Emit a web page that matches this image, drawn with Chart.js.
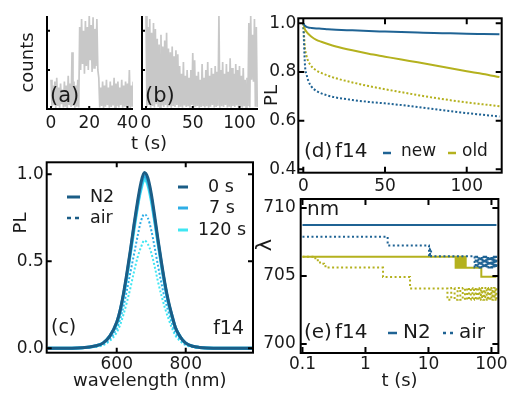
<!DOCTYPE html>
<html>
<head>
<meta charset="utf-8">
<script src="https://cdn.jsdelivr.net/npm/chart.js@4.4.0/dist/chart.umd.min.js"></script>
<style>
  html, body { margin: 0; padding: 0; background: #fff; }
  #wrap { position: relative; width: 509px; height: 393px; overflow: hidden; }
  canvas { position: absolute; left: 0; top: 0; }
</style>
</head>
<body>
<div id="wrap">
  <canvas id="pa" width="509" height="393"></canvas>
  <canvas id="pb" width="509" height="393"></canvas>
  <canvas id="pc" width="509" height="393"></canvas>
  <canvas id="pd" width="509" height="393"></canvas>
  <canvas id="pe" width="509" height="393"></canvas>
</div>
<script>
// (a) blinking trace: peak and floor of the counts in each 1 s slot
const aTime = [0,1,2,3,4,5,6,7,8,9,10,11,12,13,14,15,16,17,18,19,20,21,22,23,24,25,26,27,28,29,30,31,32,33,34,35,36,37,38,39,40,41,42,43];
const aPeak = [0.75,0.6,0.7,0.8,0.55,0.65,0.5,0.7,0.6,0.85,0.65,1.45,0.7,0.6,0.75,2.1,2.3,2.0,2.25,2.1,2.4,2.15,2.35,2.05,2.3,0.8,0.55,0.7,0.6,0.75,0.55,0.7,0.6,0.8,0.65,0.7,0.55,0.75,0.6,0.7,0.65,1.0,0.6,0.7];
const aFloor = [0.05,0.1,0.02,0.08,0.03,0.12,0.04,0.06,0.02,0.1,0.05,0.08,0.03,0.06,0.04,1.0,1.15,0.9,1.1,1.0,1.25,0.95,1.05,1.1,1.0,0.04,0.08,0.02,0.06,0.1,0.03,0.05,0.09,0.02,0.07,0.04,0.1,0.03,0.06,0.05,0.08,0.02,0.06,0.04];
const aTicks = [0, 20, 40];

// (b) second trace, 2 s slots
const bTime = [0,2,4,6,8,10,12,14,16,18,20,22,24,26,28,30,32,34,36,38,40,42,44,46,48,50,52,54,56,58,60,62,64,66,68,70,72,74,76,78,80,82,84,86,88,90,92,94,96,98,100,102,104,106,108,110,112,114,116,118];
const bPeak = [2.38,2.1,2.3,1.95,2.2,2.05,1.8,1.65,1.9,1.6,1.75,1.95,1.55,1.45,1.6,1.35,1.5,1.4,1.1,0.9,1.2,0.85,1.0,0.8,1.0,1.43,1.25,0.85,0.95,0.75,1.15,0.8,1.0,1.2,0.85,1.05,0.9,1.1,0.95,2.4,1.0,1.2,0.9,1.15,0.95,1.3,1.05,0.9,1.15,1.0,1.1,0.85,1.05,0.75,0.8,2.2,2.38,1.9,2.3,2.1];
const bFloor = [0.05,0.1,0.03,0.08,0.04,0.12,0.06,0.03,0.09,0.05,0.1,0.04,0.07,0.03,0.08,0.05,0.1,0.04,0.06,0.03,0.09,0.05,0.07,0.03,0.1,0.04,0.06,0.08,0.03,0.05,0.09,0.04,0.07,0.03,0.06,0.1,0.04,0.05,0.08,0.03,0.07,0.05,0.1,0.04,0.06,0.03,0.08,0.05,0.09,0.04,0.06,0.03,0.07,0.05,0.08,0.04,0.75,0.7,0.06,0.05];
const bTicks = [0, 50, 100];
const countTicks = [0, 1, 2];

// (c) spectra
const cWave = [400,500,540,560,580,600,610,620,630,640,650,660,670,680,690,700,710,720,730,740,750,760,770,780,790,800,820,840,860,900,1000];
const cN2_0 = [0,0.004,0.015,0.03,0.07,0.15,0.22,0.32,0.44,0.57,0.71,0.84,0.95,1.01,0.98,0.89,0.76,0.62,0.49,0.37,0.27,0.19,0.12,0.08,0.05,0.03,0.012,0.005,0.002,0,0];
const cN2_7 = [0,0.004,0.015,0.03,0.07,0.15,0.22,0.31,0.43,0.56,0.70,0.82,0.93,0.99,0.96,0.87,0.74,0.61,0.48,0.36,0.26,0.19,0.12,0.08,0.05,0.03,0.012,0.005,0.002,0,0];
const cN2_120 = [0,0.004,0.014,0.03,0.07,0.14,0.21,0.31,0.42,0.55,0.68,0.81,0.91,0.97,0.94,0.85,0.73,0.60,0.47,0.36,0.26,0.18,0.12,0.08,0.05,0.03,0.011,0.005,0.002,0,0];
const cAir_7 = [0,0.003,0.011,0.023,0.054,0.115,0.17,0.245,0.34,0.44,0.54,0.64,0.73,0.77,0.75,0.68,0.58,0.47,0.37,0.28,0.21,0.145,0.09,0.06,0.04,0.023,0.009,0.004,0.002,0,0];
const cAir_120 = [0,0.002,0.009,0.018,0.043,0.092,0.135,0.197,0.27,0.35,0.44,0.52,0.58,0.62,0.60,0.55,0.47,0.38,0.30,0.23,0.17,0.117,0.074,0.049,0.031,0.018,0.007,0.003,0.001,0,0];
const cTicksX = [600, 800];
const cTicksY = [0, 0.5, 1];

// (d) PL decay
const dTime = [0,1,2,3,5,8,11,15,20,30,40,50,60,70,80,90,100,110,120];
const dNewN2 = [1.0,0.99,0.985,0.983,0.981,0.979,0.978,0.976,0.974,0.971,0.968,0.966,0.964,0.962,0.960,0.959,0.957,0.956,0.955];
const dOldN2 = [1.0,0.975,0.965,0.957,0.945,0.932,0.924,0.915,0.905,0.889,0.875,0.863,0.851,0.84,0.828,0.815,0.803,0.792,0.779];
const dNewAir = [1.0,0.83,0.79,0.765,0.74,0.722,0.712,0.703,0.695,0.685,0.677,0.671,0.664,0.656,0.647,0.639,0.631,0.624,0.617];
const dOldAir = [1.0,0.90,0.865,0.845,0.823,0.806,0.796,0.785,0.774,0.757,0.742,0.729,0.717,0.705,0.694,0.684,0.675,0.667,0.659];
const dTicksX = [0, 50, 100];
const dTicksY = [0.4, 0.6, 0.8, 1.0];

// (e) peak wavelength vs time (value holds until next time)
const eNewN2T = [0.1, 120];
const eNewN2 = [708.75, 708.75];
const eOldN2T = [0.1,27,28,29,30,31,32,33,34,35,36,37,38,39,69,120];
const eOldN2 = [706.42,705.6,706.42,705.6,706.42,705.6,706.42,705.6,706.42,705.6,706.42,705.6,706.42,705.6,704.95,704.95];
const eNewAirT = [0.1,2.25,10.2,10.6,11.0,54,56,58,60,62,64,66,68,70,72,74,76,78,80,82,84,86,88,90,92,94,96,98,100,102,104,106,108,110,112,114,116,118,120];
const eNewAir = [707.89,707.25,706.45,707.0,706.45,705.62,706.42,705.62,706.42,705.62,706.42,705.62,706.42,705.62,706.42,705.62,706.42,705.62,706.42,705.62,706.42,705.62,706.42,705.62,706.42,705.62,706.42,705.62,706.42,705.62,706.42,705.62,706.42,705.62,706.42,705.62,706.42,705.62,706.42];
const eOldAirT = [0.1,0.16,0.19,0.22,0.25,1.9,5.1,20,23,26,29,32,35,38,41,44,47,50,53,56,59,62,65,68,71,74,77,80,84,88,92,96,100,104,108,112,116,120];
const eOldAir = [706.42,706.15,705.9,705.72,705.62,704.92,704.08,703.25,704.12,703.25,704.12,703.25,704.12,703.25,704.12,703.25,704.12,703.25,704.12,703.25,704.12,703.25,704.12,703.25,704.12,703.25,704.12,703.25,704.12,703.25,704.12,703.25,704.12,703.25,704.12,703.25,704.12,703.25];
const eTicksX = [0.1, 1, 10, 100];
const eTicksY = [700, 705, 710];

const BLUE = '#1f6394', OLIVE = '#b4b11e';
const C0 = '#1b5d86', C7 = '#2eaee6', C120 = '#3fe6f2';
const GREY = '#c8c8c8';

Chart.defaults.font.family = '"DejaVu Sans", sans-serif';
Chart.defaults.color = '#1a1a1a';
Chart.defaults.animation = false;
Chart.defaults.responsive = false;
Chart.defaults.plugins.legend.display = false;
Chart.defaults.plugins.tooltip.enabled = false;
Chart.defaults.elements.point.radius = 0;
Chart.defaults.layout.autoPadding = false;

const pts = (xs, ys) => xs.map((x, i) => ({ x: x, y: ys[i] }));
const zig = (t, hi, lo, dt) => t.flatMap((x, i) => [{ x: x, y: hi[i] }, { x: x + dt, y: lo[i] }]);

// frame, inward ticks, small keys and labels
const panelPlugin = {
  id: 'panel',
  afterDraw(chart, args, opts) {
    const ctx = chart.ctx, a = chart.chartArea;
    const xs = chart.scales.x, ys = chart.scales.y;
    const len = opts.tickLen || 5;
    ctx.save();
    ctx.strokeStyle = '#000';
    ctx.lineWidth = 2;
    if (opts.box) {
      ctx.strokeRect(a.left, a.top, a.right - a.left, a.bottom - a.top);
    } else {
      ctx.beginPath();
      ctx.moveTo(a.left, a.top);
      ctx.lineTo(a.left, a.bottom);
      ctx.lineTo(a.right, a.bottom);
      ctx.stroke();
    }
    ctx.beginPath();
    xs.ticks.forEach(t => {
      const p = xs.getPixelForValue(t.value);
      ctx.moveTo(p, a.bottom); ctx.lineTo(p, a.bottom - len);
      if (opts.box) { ctx.moveTo(p, a.top); ctx.lineTo(p, a.top + len); }
    });
    ys.ticks.forEach(t => {
      const p = ys.getPixelForValue(t.value);
      ctx.moveTo(a.left, p); ctx.lineTo(a.left + len, p);
      if (opts.box) { ctx.moveTo(a.right, p); ctx.lineTo(a.right - len, p); }
    });
    ctx.stroke();
    (opts.keys || []).forEach(k => {
      ctx.save();
      ctx.strokeStyle = k.color;
      ctx.lineWidth = k.width;
      ctx.setLineDash(k.dash || []);
      ctx.beginPath();
      ctx.moveTo(k.x1, k.y); ctx.lineTo(k.x2, k.y);
      ctx.stroke();
      ctx.restore();
    });
    ctx.fillStyle = '#1a1a1a';
    ctx.textBaseline = 'middle';
    (opts.texts || []).forEach(t => {
      ctx.save();
      ctx.font = t.size + 'px "DejaVu Sans"';
      ctx.textAlign = t.align || 'left';
      ctx.translate(t.x, t.y);
      if (t.rot) ctx.rotate(-Math.PI / 2);
      ctx.fillText(t.text, 0, 0);
      ctx.restore();
    });
    ctx.restore();
  }
};
Chart.register(panelPlugin);

function axis(type, min, max, tickVals, size, fit, extra) {
  const horiz = fit === 'h';
  return Object.assign({
    type: type, min: min, max: max,
    grid: { display: false, drawTicks: false },
    border: { display: false },
    afterBuildTicks: s => { s.ticks = tickVals.map(v => ({ value: v })); },
    afterFit: s => { if (horiz) s.height = size; else s.width = size; }
  }, extra);
}
const tickFont = { size: 17 };

// (a)
new Chart(document.getElementById('pa'), {
  type: 'line',
  data: { datasets: [{ data: zig(aTime, aPeak, aFloor, 0.5), borderColor: GREY, borderWidth: 1.7, tension: 0 }] },
  options: {
    layout: { padding: { left: 17.2, right: 376, top: 16, bottom: 254 } },
    scales: {
      x: axis('linear', -2.1, 42.9, aTicks, 30, 'h', { ticks: { font: tickFont, padding: 4, autoSkip: false, maxRotation: 0, callback: v => String(v) } }),
      y: axis('linear', 0, 2.38, countTicks, 29.8, 'w', { ticks: { display: false }, title: { display: true, text: 'counts', font: { size: 18 }, padding: 0 } })
    },
    plugins: { panel: { box: false, tickLen: 3, texts: [{ text: '(a)', x: 50, y: 97, size: 21 }] } }
  }
});

// (b)
new Chart(document.getElementById('pb'), {
  type: 'line',
  data: { datasets: [{ data: zig(bTime, bPeak, bFloor, 1), borderColor: GREY, borderWidth: 1.7, tension: 0 }] },
  options: {
    layout: { padding: { left: 132, right: 251, top: 16, bottom: 254 } },
    scales: {
      x: axis('linear', -4.3, 119.8, bTicks, 30, 'h', { ticks: { font: tickFont, padding: 4, autoSkip: false, maxRotation: 0, callback: v => String(v) } }),
      y: axis('linear', 0, 2.38, countTicks, 10, 'w', { ticks: { display: false } })
    },
    plugins: { panel: { box: false, tickLen: 3, texts: [
      { text: '(b)', x: 145, y: 97, size: 21 },
      { text: 't (s)', x: 149, y: 144, size: 18, align: 'center' }
    ] } }
  }
});

// (c)
new Chart(document.getElementById('pc'), {
  type: 'line',
  data: { datasets: [
    { data: pts(cWave, cN2_0), borderColor: C0, borderWidth: 3, cubicInterpolationMode: 'monotone' },
    { data: pts(cWave, cN2_7), borderColor: C7, borderWidth: 3, cubicInterpolationMode: 'monotone' },
    { data: pts(cWave, cN2_120), borderColor: C120, borderWidth: 3, cubicInterpolationMode: 'monotone' },
    { data: pts(cWave, cAir_7), borderColor: C7, borderWidth: 2, borderDash: [2, 2], cubicInterpolationMode: 'monotone' },
    { data: pts(cWave, cAir_120), borderColor: C120, borderWidth: 2, borderDash: [2, 2], cubicInterpolationMode: 'monotone' }
  ] },
  options: {
    layout: { padding: { left: 9.2, right: 256, top: 162.3, bottom: 0.5 } },
    scales: {
      x: axis('linear', 397, 995, cTicksX, 39.8, 'h', {
        ticks: { font: tickFont, padding: 2, autoSkip: false, maxRotation: 0, callback: v => String(v) },
        title: { display: true, text: 'wavelength (nm)', font: { size: 18 }, padding: 0 } }),
      y: axis('linear', -0.025, 1.069, cTicksY, 37.5, 'w', {
        ticks: { font: tickFont, padding: 3, callback: v => v.toFixed(1) } })
    },
    plugins: { panel: { box: true, tickLen: 5,
      keys: [
        { x1: 67, x2: 80, y: 197, color: C0, width: 3 },
        { x1: 67, x2: 80, y: 218, color: C0, width: 2.5, dash: [4, 4] },
        { x1: 178, x2: 188, y: 187, color: C0, width: 3 },
        { x1: 178, x2: 188, y: 208, color: C7, width: 3 },
        { x1: 178, x2: 188, y: 230, color: C120, width: 3 }
      ],
      texts: [
        { text: 'PL', x: 21, y: 223, size: 18, align: 'center', rot: true },
        { text: 'N2', x: 90, y: 197, size: 17.5 },
        { text: 'air', x: 90, y: 218, size: 17.5 },
        { text: '0 s', x: 208, y: 187, size: 17.5 },
        { text: '7 s', x: 209, y: 208, size: 17.5 },
        { text: '120 s', x: 198, y: 230, size: 17.5 },
        { text: '(c)', x: 51, y: 328, size: 19 },
        { text: 'f14', x: 244, y: 329, size: 19, align: 'right' }
      ] } }
  }
});

// (d)
new Chart(document.getElementById('pd'), {
  type: 'line',
  data: { datasets: [
    { data: pts(dTime, dNewN2), borderColor: BLUE, borderWidth: 2, cubicInterpolationMode: 'monotone' },
    { data: pts(dTime, dOldN2), borderColor: OLIVE, borderWidth: 2, cubicInterpolationMode: 'monotone' },
    { data: pts(dTime, dNewAir), borderColor: BLUE, borderWidth: 2, borderDash: [2, 2], cubicInterpolationMode: 'monotone' },
    { data: pts(dTime, dOldAir), borderColor: OLIVE, borderWidth: 2, borderDash: [2, 2], cubicInterpolationMode: 'monotone' }
  ] },
  options: {
    layout: { padding: { left: 261.2, right: 7.3, top: 18.3, bottom: 190.3 } },
    scales: {
      x: axis('linear', -3.06, 121.4, dTicksX, 30, 'h', { ticks: { font: tickFont, padding: 4, autoSkip: false, maxRotation: 0, callback: v => String(v) } }),
      y: axis('linear', 0.386, 1.0206, dTicksY, 37.1, 'w', {
        ticks: { font: tickFont, padding: 2, callback: v => v.toFixed(1) },
        title: { display: true, text: 'PL', font: { size: 18 }, padding: 0 } })
    },
    plugins: { panel: { box: true, tickLen: 6,
      keys: [
        { x1: 383, x2: 391, y: 153, color: BLUE, width: 2.5 },
        { x1: 448, x2: 456, y: 153, color: OLIVE, width: 2.5 }
      ],
      texts: [
        { text: '(d)', x: 304, y: 152, size: 20 },
        { text: 'f14', x: 335, y: 152, size: 20 },
        { text: 'new', x: 401, y: 152, size: 17 },
        { text: 'old', x: 462, y: 152, size: 17 }
      ] } }
  }
});

// (e)
new Chart(document.getElementById('pe'), {
  type: 'line',
  data: { datasets: [
    { data: pts(eNewAirT, eNewAir), borderColor: BLUE, borderWidth: 2, borderDash: [2, 2.5], stepped: true },
    { data: pts(eNewN2T, eNewN2), borderColor: BLUE, borderWidth: 2, stepped: true },
    { data: pts(eOldN2T, eOldN2), borderColor: OLIVE, borderWidth: 2, stepped: true },
    { data: pts(eOldAirT, eOldAir), borderColor: OLIVE, borderWidth: 2, borderDash: [2, 2.5], stepped: true }
  ] },
  options: {
    layout: { padding: { left: 253, right: 9, top: 199, bottom: 0.5 } },
    scales: {
      x: axis('logarithmic', 0.0937, 128.8, eTicksX, 39.5, 'h', {
        ticks: { font: tickFont, padding: 1, autoSkip: false, maxRotation: 0, callback: v => String(v) },
        title: { display: true, text: 't (s)', font: { size: 18 }, padding: 0 } }),
      y: axis('linear', 699.34, 710.66, eTicksY, 47.7, 'w', {
        ticks: { font: tickFont, padding: 5, callback: v => String(v) } })
    },
    plugins: { panel: { box: true, tickLen: 6,
      keys: [
        { x1: 388, x2: 397, y: 333, color: BLUE, width: 2.5 },
        { x1: 443, x2: 454, y: 333, color: BLUE, width: 2.5, dash: [3, 4] }
      ],
      texts: [
        { text: 'λ', x: 266, y: 245, size: 21, align: 'center', rot: true },
        { text: 'nm', x: 307, y: 210, size: 20 },
        { text: '(e)', x: 304, y: 333, size: 20 },
        { text: 'f14', x: 335, y: 333, size: 20 },
        { text: 'N2', x: 403, y: 333, size: 20 },
        { text: 'air', x: 459, y: 333, size: 20 }
      ] } }
  }
});
</script>
</body>
</html>
